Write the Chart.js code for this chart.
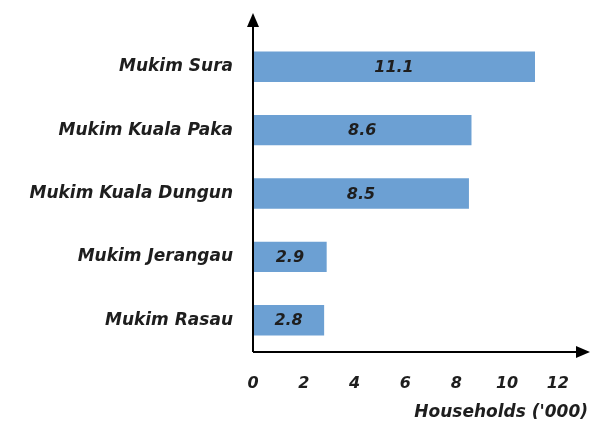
<!DOCTYPE html>
<html>
<head>
<meta charset="utf-8">
<script src="https://cdn.jsdelivr.net/npm/chart.js@4.4.1/dist/chart.umd.min.js"></script>
<style>
  html, body { margin: 0; padding: 0; background: #fff; }
  #wrap { width: 591px; height: 428px; position: relative; }
</style>
</head>
<body>
<div id="wrap"><canvas id="bars"></canvas></div>
<script>
const categories = ["Mukim Sura", "Mukim Kuala Paka", "Mukim Kuala Dungun", "Mukim Jerangau", "Mukim Rasau"];
const households = [11.1, 8.6, 8.5, 2.9, 2.8];
const tickValues = [0, 2, 4, 6, 8, 10, 12];
const axisTitle = "Households ('000)";

const fontFamily = "'DejaVu Sans', sans-serif";
const inkColor = "#1e1e1e";
const barColor = "#6ca0d3";

// axis lines with arrow heads, drawn over the chart area edges
const arrowAxes = {
  id: "arrowAxes",
  afterDraw(chart) {
    const { ctx, chartArea } = chart;
    const x0 = chartArea.left;
    const y0 = chartArea.bottom;
    const topTip = 13;
    const rightTip = chart.width - 1;
    ctx.save();
    ctx.strokeStyle = "#000";
    ctx.fillStyle = "#000";
    ctx.lineWidth = 2;
    ctx.beginPath();
    ctx.moveTo(x0, y0);
    ctx.lineTo(x0, topTip + 10);
    ctx.moveTo(x0, y0);
    ctx.lineTo(rightTip - 10, y0);
    ctx.stroke();

    ctx.beginPath();
    ctx.moveTo(x0, topTip);
    ctx.lineTo(x0 - 6, topTip + 14);
    ctx.lineTo(x0 + 6, topTip + 14);
    ctx.closePath();
    ctx.fill();

    ctx.beginPath();
    ctx.moveTo(rightTip, y0);
    ctx.lineTo(rightTip - 14, y0 - 6);
    ctx.lineTo(rightTip - 14, y0 + 6);
    ctx.closePath();
    ctx.fill();

    // axis title, right aligned to the window edge
    ctx.font = "italic bold 17px " + fontFamily;
    ctx.textAlign = "right";
    ctx.textBaseline = "middle";
    ctx.fillStyle = inkColor;
    ctx.fillText(axisTitle, chart.width - 3, 413);
    ctx.restore();
  }
};

// value printed in the middle of each bar
const barValues = {
  id: "barValues",
  afterDatasetsDraw(chart) {
    const { ctx } = chart;
    const meta = chart.getDatasetMeta(0);
    ctx.save();
    ctx.font = "italic bold 16px " + fontFamily;
    ctx.fillStyle = inkColor;
    ctx.textAlign = "center";
    ctx.textBaseline = "middle";
    meta.data.forEach((bar, i) => {
      const cx = (bar.x + bar.base) / 2;
      ctx.fillText(households[i].toFixed(1), cx, bar.y + 1);
    });
    ctx.restore();
  }
};

new Chart(document.getElementById("bars"), {
  type: "bar",
  data: {
    labels: categories,
    datasets: [{
      data: households,
      backgroundColor: barColor,
      borderWidth: 0,
      barPercentage: 1,
      categoryPercentage: 0.48
    }]
  },
  options: {
    indexAxis: "y",
    responsive: true,
    maintainAspectRatio: false,
    animation: false,
    layout: { padding: { top: 35, right: 33, bottom: 0, left: 0 } },
    plugins: {
      legend: { display: false },
      tooltip: { enabled: false }
    },
    scales: {
      x: {
        min: 0,
        max: 12,
        afterBuildTicks(scale) {
          scale.ticks = tickValues.map(v => ({ value: v }));
        },
        afterFit(scale) { scale.height = 76; },
        grid: { display: false, drawTicks: false },
        border: { display: false },
        ticks: {
          padding: 22,
          color: inkColor,
          font: { family: fontFamily, size: 16, style: "italic", weight: "bold" }
        }
      },
      y: {
        afterFit(scale) { scale.width = 253; },
        grid: { display: false, drawTicks: false },
        border: { display: false },
        ticks: {
          padding: 20,
          color: inkColor,
          font: { family: fontFamily, size: 17, style: "italic", weight: "bold" }
        }
      }
    }
  },
  plugins: [arrowAxes, barValues]
});
</script>
</body>
</html>
